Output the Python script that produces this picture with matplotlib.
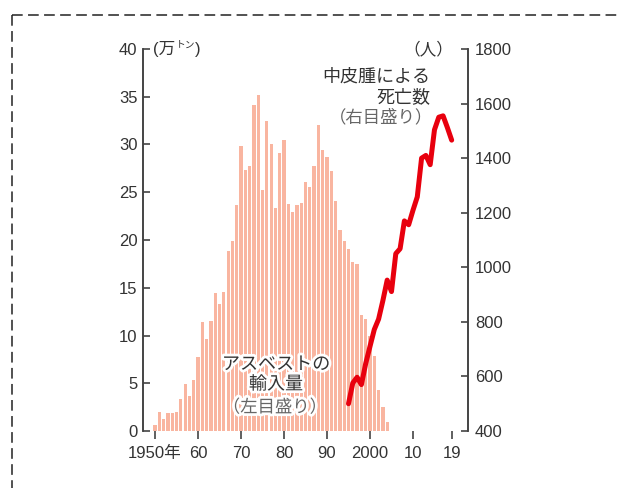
import matplotlib
matplotlib.use("Agg")
import matplotlib.pyplot as plt
import matplotlib.patheffects as pe
from matplotlib.lines import Line2D
import numpy as np

plt.rcParams['font.family'] = ['Liberation Sans', 'Noto Sans CJK JP', 'DejaVu Sans']

# アスベスト輸入量（万トン）1950-2004
import_years = np.arange(1950, 2005)
imports = [0.6, 2.0, 1.3, 1.9, 1.9, 2.0, 3.3, 4.9, 3.7, 5.3,
           7.7, 11.4, 9.6, 11.5, 14.4, 13.3, 14.6, 18.9, 19.9, 23.7,
           29.8, 27.3, 27.8, 34.1, 35.2, 25.2, 32.5, 30.0, 23.4, 29.1,
           30.5, 23.8, 22.9, 23.7, 23.9, 26.1, 25.5, 27.7, 32.0, 29.4,
           28.7, 27.2, 24.1, 21.0, 19.9, 19.1, 17.7, 17.5, 12.1, 11.7,
           9.9, 7.9, 4.3, 2.5, 0.9]

# 中皮腫による死亡数（人）1995-2019
death_years = np.arange(1995, 2020)
deaths = [500, 576, 597, 570, 647, 710, 772, 810, 878, 953,
          911, 1050, 1068, 1170, 1156, 1209, 1258, 1400, 1410, 1376,
          1504, 1550, 1555, 1512, 1466]

xtick_pos = [1950, 1960, 1970, 1980, 1990, 2000, 2010, 2019]
xtick_labels = ['1950年', '60', '70', '80', '90', '2000', '10', '19']
left_ticks = np.arange(0, 41, 5)
right_ticks = np.arange(400, 1801, 200)

bar_color = '#f9b5a0'
line_color = '#e8000e'
axis_color = '#444444'
text_color = '#333333'
sub_color = '#666666'

fig = plt.figure(figsize=(6.18, 4.88), dpi=100)
ax = fig.add_axes([0.2314, 0.1168, 0.5259, 0.7828])
ax.bar(import_years, imports, width=0.75, color=bar_color, linewidth=0)
ax.set_xlim(1947.2, 2022.8)
ax.set_ylim(0, 40)
ax.set_yticks(left_ticks)
ax.set_xticks(xtick_pos)
ax.set_xticklabels(xtick_labels)

ax2 = ax.twinx()
ax2.plot(death_years, deaths, color=line_color, lw=3.6,
         solid_capstyle='round', solid_joinstyle='round')
ax2.set_ylim(400, 1800)
ax2.set_yticks(right_ticks)

for a in (ax, ax2):
    for s in ('top', 'bottom'):
        a.spines[s].set_visible(False)
    for s in ('left', 'right'):
        a.spines[s].set_color(axis_color)
        a.spines[s].set_linewidth(1.2)
ax.tick_params(axis='y', direction='in', length=5, width=1.2, color=axis_color,
               labelsize=12, labelcolor=text_color, pad=4)
ax.tick_params(axis='x', direction='out', length=6, width=1.2, color=axis_color,
               labelsize=12, labelcolor=text_color, pad=5)
ax2.tick_params(axis='y', direction='in', length=5, width=1.2, color=axis_color,
                labelsize=12, labelcolor=text_color, pad=5)

# 単位
t1 = ax.text(0.031, 0.9987, '(万', transform=ax.transAxes, fontsize=12,
             color=text_color, ha='left', va='center')
t2 = ax.annotate('トン', xy=(1, 0.45), xycoords=t1, fontsize=7,
                 color=text_color, ha='left', va='bottom')
ax.annotate(')', xy=(1, 0), xycoords=(t2, t1), fontsize=12,
            color=text_color, ha='left', va='bottom')
ax2.text(0.955, 0.9987, '（人）', transform=ax2.transAxes, fontsize=12,
         color=text_color, ha='right', va='center')

# 系列ラベル
halo = [pe.withStroke(linewidth=4, foreground='white')]
ax2.text(0.883, 0.927, '中皮腫による', transform=ax2.transAxes, fontsize=13,
         color=text_color, ha='right', va='center')
ax2.text(0.883, 0.874, '死亡数', transform=ax2.transAxes, fontsize=13,
         color=text_color, ha='right', va='center')
ax2.text(0.892, 0.821, '（右目盛り）', transform=ax2.transAxes, fontsize=12.5,
         color=sub_color, ha='right', va='center')

ax2.text(0.409, 0.173, 'アスベストの', transform=ax2.transAxes, fontsize=13,
         color=text_color, ha='center', va='center', path_effects=halo)
ax2.text(0.409, 0.121, '輸入量', transform=ax2.transAxes, fontsize=13,
         color=text_color, ha='center', va='center', path_effects=halo)
ax2.text(0.406, 0.063, '（左目盛り）', transform=ax2.transAxes, fontsize=12.5,
         color=sub_color, ha='center', va='center', path_effects=halo)

# 点線の枠
fig.add_artist(Line2D([0.0194, 1.0], [0.9693, 0.9693], transform=fig.transFigure,
                      color='#222222', lw=1.1, linestyle=(0, (7, 3.5))))
fig.add_artist(Line2D([0.0194, 0.0194], [0.9693, 0.0], transform=fig.transFigure,
                      color='#222222', lw=1.1, linestyle=(0, (7, 3.5))))

fig.savefig('out.png', dpi=100)
